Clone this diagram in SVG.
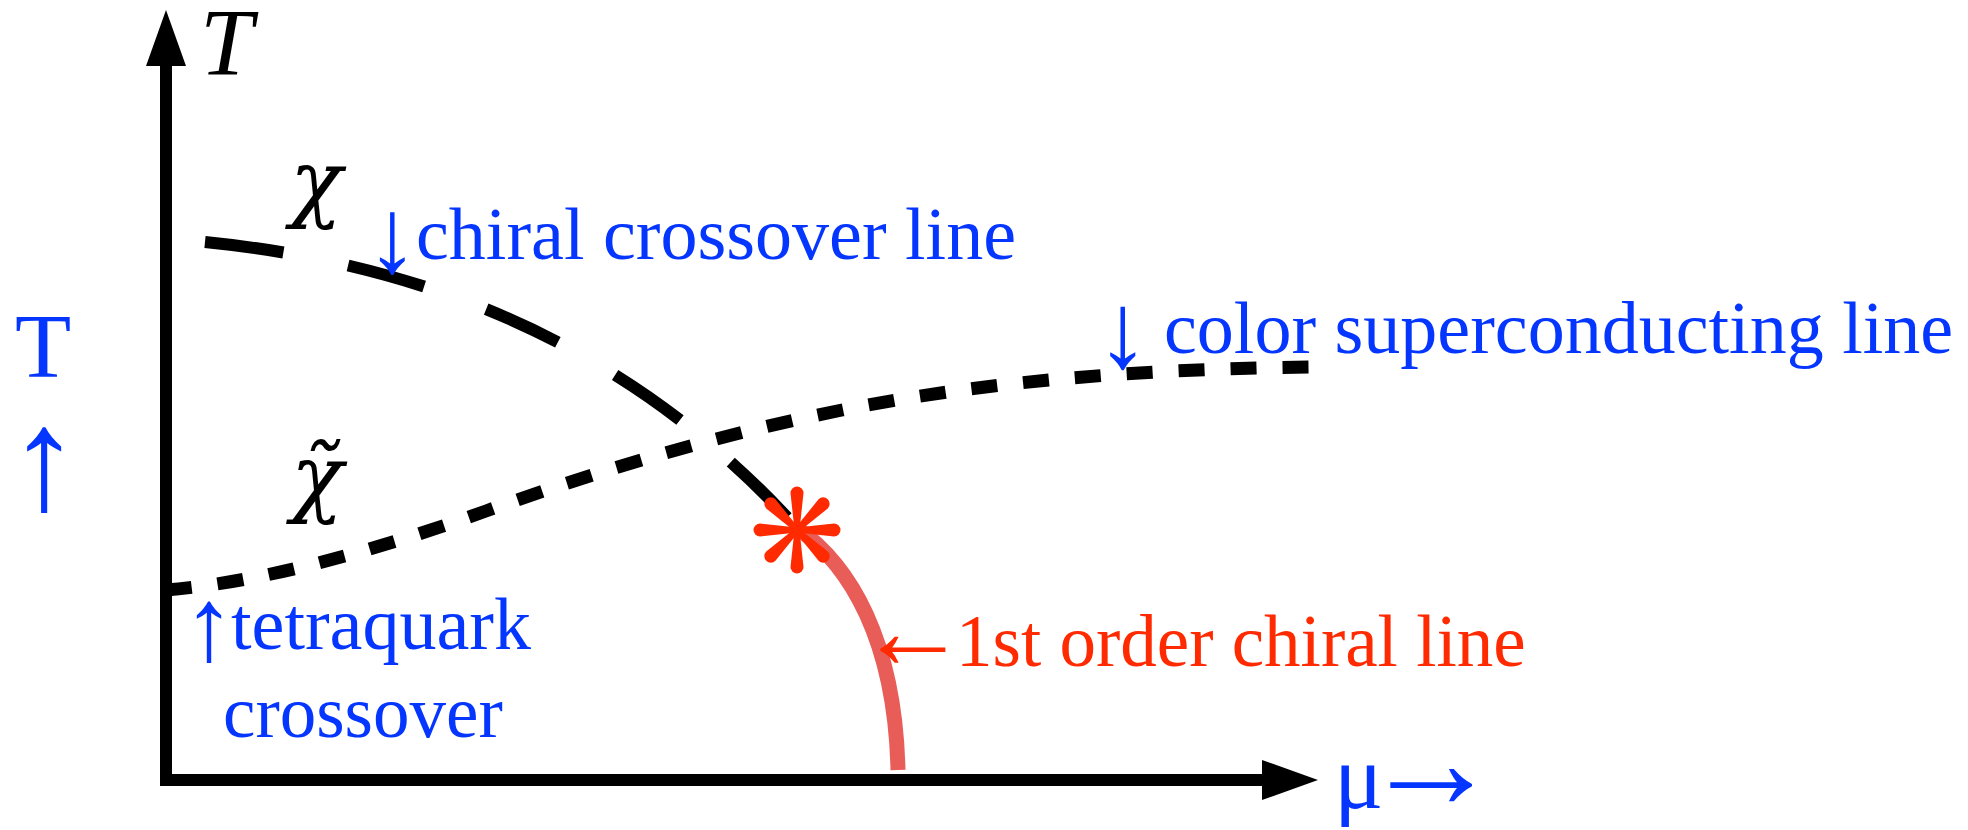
<svg xmlns="http://www.w3.org/2000/svg" width="1968" height="830" viewBox="0 0 1968 830">
<style>
.axis{stroke:#000;stroke-width:12;fill:none}
.chiral{stroke:#000;stroke-width:12;fill:none;stroke-dasharray:79 66}
.csc{stroke:#000;stroke-width:13;fill:none;stroke-dasharray:26 26}
.first{stroke:#e95d59;stroke-width:15;fill:none}
.arm{fill:#ff2a00}
</style>
<defs>
<path id="arm" d="M-2.5,0 L-6.5,-37 A6.5,6.5 0 1 1 6.5,-37 L2.5,0 Z"/>
</defs>
<rect width="1968" height="830" fill="#fff"/>
<g id="connectors">
<path class="axis" d="M166,60 V786"/>
<polygon points="166,10 146,66 186,66" fill="#000"/>
<path class="axis" d="M160,780 H1266"/>
<polygon points="1318,780 1262,760 1262,800" fill="#000"/>
<path class="chiral" d="M205,242 C455,267 647,363 797,528"/>
<path class="csc" d="M166,590 C266,582 386,547 486,511 C606,468 722,434 842,410 C997,379 1154,369 1309,367"/>
<path class="first" d="M797,528 C850,565 895,640 898,770"/>
</g>
<g id="critical-point" transform="translate(797,530)">
<use href="#arm" class="arm"/>
<use href="#arm" class="arm" transform="rotate(45)"/>
<use href="#arm" class="arm" transform="rotate(90)"/>
<use href="#arm" class="arm" transform="rotate(135)"/>
<use href="#arm" class="arm" transform="rotate(180)"/>
<use href="#arm" class="arm" transform="rotate(225)"/>
<use href="#arm" class="arm" transform="rotate(270)"/>
<use href="#arm" class="arm" transform="rotate(315)"/>
</g>
<g id="axis-T"><text x="200" y="75" font-family="Liberation Serif" font-style="italic" font-size="95" fill="#000">T</text></g>
<g id="chi"><text x="290" y="211" font-family="DejaVu Serif" font-style="italic" font-size="86" fill="#000">χ</text></g>
<g id="chi-tilde"><text x="291" y="506" font-family="DejaVu Serif" font-style="italic" font-size="86" fill="#000">χ̃</text></g>
<g id="label-chiral"><text x="366" y="259" font-family="Liberation Serif" font-size="74" fill="#0436ff"><tspan font-size="106" dy="13">↓</tspan><tspan dy="-13" dx="-3">chiral crossover line</tspan></text></g>
<g id="label-csc"><text x="1096" y="353" font-family="Liberation Serif" font-size="74" fill="#0436ff"><tspan font-size="107" dy="14">↓</tspan><tspan dy="-14" dx="-4"> color superconducting line</tspan></text></g>
<g id="label-tetra"><text x="183" y="649" font-family="Liberation Serif" font-size="74" fill="#0436ff"><tspan font-size="104" dy="11">↑</tspan><tspan dy="-11" dx="-4">tetraquark</tspan></text><text x="223" y="737" font-family="Liberation Serif" font-size="73" fill="#0436ff">crossover</text></g>
<g id="label-first"><text x="858" y="666" font-family="Liberation Serif" font-size="73" fill="#ff2a00"><tspan font-size="110" dy="2">←</tspan><tspan dy="-2" dx="-12">1st order chiral line</tspan></text></g>
<g id="label-mu"><text x="1334" y="808" font-family="Liberation Serif" font-size="92" fill="#0436ff">μ<tspan font-size="138" dx="-21">→</tspan></text></g>
<g id="label-T"><text x="15" y="377" font-family="Liberation Serif" font-size="92" fill="#0436ff">T</text><text x="8" y="509" font-family="Liberation Serif" font-size="145" fill="#0436ff">↑</text></g>
</svg>
